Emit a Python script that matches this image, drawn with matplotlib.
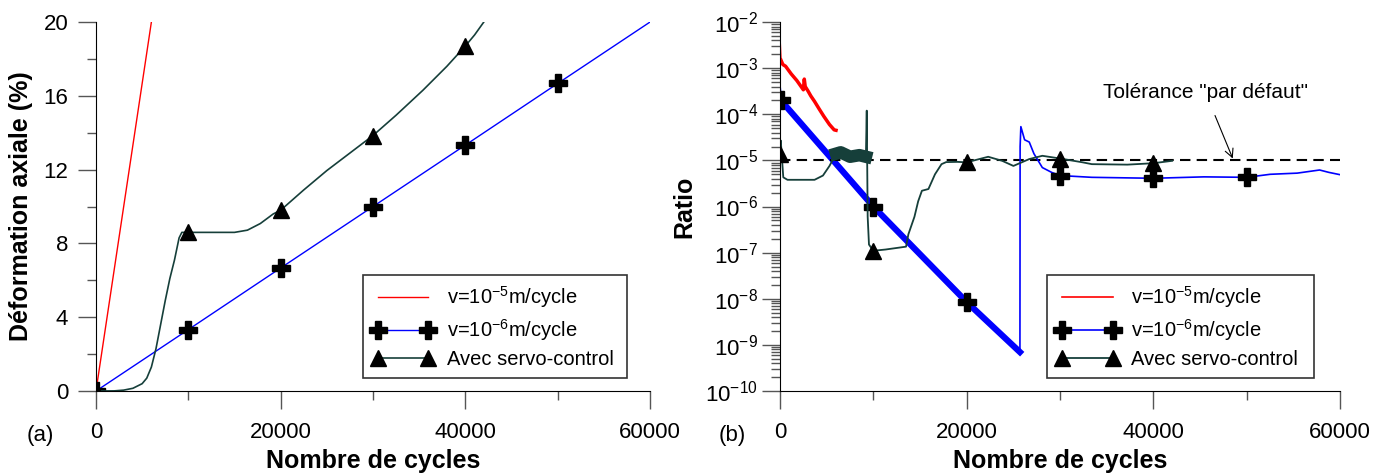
import numpy as np
import matplotlib.pyplot as plt
from matplotlib.ticker import LogLocator, NullFormatter

plt.rcParams['font.family'] = ['Liberation Sans', 'DejaVu Sans']
plt.rcParams['mathtext.default'] = 'regular'

# ---- (a) axial strain vs cycles ----
red_n = [0, 6000]
red_e = [0, 20]

blue_n = [0, 10000, 20000, 30000, 40000, 50000, 60000]
blue_e = [0, 3.33, 6.67, 10.0, 13.33, 16.67, 20.0]
blue_mk = [0, 10000, 20000, 30000, 40000, 50000]

servo_n = [0, 2000, 3000, 4000, 5000, 5500, 6000, 6500, 7000, 7500, 8000, 8500,
           9000, 9300, 10000, 12000, 15000, 16400, 17800, 19200, 20000, 22500,
           25000, 27500, 30000, 32500, 35400, 38000, 40000, 41000, 42000]
servo_e = [0, 0.01, 0.05, 0.15, 0.4, 0.7, 1.3, 2.3, 3.6, 4.9, 6.1, 7.1,
           8.3, 8.6, 8.6, 8.6, 8.6, 8.72, 9.08, 9.6, 9.8, 10.9,
           11.95, 12.9, 13.85, 14.95, 16.3, 17.6, 18.7, 19.3, 20.0]
servo_mk = [0, 10000, 20000, 30000, 40000]

# ---- (b) ratio vs cycles ----
red_rn = [0, 100, 300, 600, 1200, 1800, 2500, 2600, 2700, 3000, 3300, 3700,
          4200, 4700, 5300, 5800, 6000]
red_r = [4.2e-3, 1.5e-3, 1.2e-3, 1.1e-3, 7.5e-4, 5.4e-4, 3.4e-4, 5.8e-4, 4.0e-4,
         3.2e-4, 2.5e-4, 1.9e-4, 1.3e-4, 9.0e-5, 6.0e-5, 4.6e-5, 4.5e-5]

blue_rn = [0, 150, 400, 10000, 20000, 25700, 25720, 25800, 26200, 26700, 27200,
           28100, 29100, 30000, 33400, 40000, 45400, 50000, 52500, 55400, 57800,
           58800, 60000]
blue_r = [4.2e-4, 2.0e-4, 1.7e-4, 1.0e-6, 8.5e-9, 7.0e-10, 2.0e-5, 5.4e-5, 2.8e-5,
          2.5e-5, 1.4e-5, 7.0e-6, 5.5e-6, 4.7e-6, 4.3e-6, 4.1e-6, 4.4e-6, 4.3e-6,
          5.0e-6, 5.3e-6, 6.2e-6, 5.5e-6, 4.9e-6]
blue_rmk = [150, 10000, 20000, 30000, 40000, 50000]

servo_rn = [0, 80, 350, 800, 3700, 4600, 5300, 6000, 6500, 7500, 8500, 9200,
            9290, 9390, 9530, 9900, 10000, 11300, 13500, 13750, 14400, 14800,
            15200, 15900, 16600, 17300, 17800, 19000, 20000, 22300, 23800, 25000,
            26700, 28100, 30000, 32400, 33400, 37200, 40000, 42000]
servo_r = [1.4e-5, 2.7e-5, 4.3e-6, 3.8e-6, 3.8e-6, 4.7e-6, 7.6e-6, 1.4e-5, 1.5e-5,
           1.2e-5, 1.3e-5, 1.2e-5, 1.2e-4, 6.0e-7, 1.5e-7, 1.17e-7, 1.1e-7, 1.17e-7,
           1.35e-7, 2.5e-7, 6.0e-7, 1.3e-6, 2.2e-6, 2.4e-6, 5.0e-6, 8.3e-6, 9.2e-6,
           9.3e-6, 9.1e-6, 1.2e-5, 9.8e-6, 7.6e-6, 1.07e-5, 1.26e-5, 1.1e-5, 9.1e-6,
           8.3e-6, 8.1e-6, 8.7e-6, 9.8e-6]
servo_rmk = [0, 10000, 20000, 30000, 40000]

tolerance = 1e-5

green = '#163f3a'
lab1 = 'v=10$^{-5}$m/cycle'
lab2 = 'v=10$^{-6}$m/cycle'
lab3 = 'Avec servo-control'


def marks(n, mk):
    return [i for i, v in enumerate(n) if v in mk]


def style(ax):
    for s in ['top', 'right']:
        ax.spines[s].set_visible(False)
    ax.tick_params(which='major', direction='out', length=13, width=1,
                   labelsize=16, color='#555555')
    ax.tick_params(which='minor', direction='out', length=6.5, width=1,
                   color='#555555')
    ax.tick_params(axis='x', which='major', pad=9)
    ax.tick_params(axis='y', which='major', pad=7)
    ax.set_xlim(0, 60000)
    ax.set_xticks([0, 20000, 40000, 60000])
    ax.set_xticks([10000, 30000, 50000], minor=True)
    ax.set_xlabel('Nombre de cycles', fontsize=18, fontweight='bold', va='top')
    ax.xaxis.set_label_coords(0.5, -0.157)


def legend(ax, x0):
    leg = ax.legend(loc='lower left', bbox_to_anchor=(x0, 0.035, 0.476, 0.28),
                    mode='expand', numpoints=2,
                    handlelength=3.1, handletextpad=0.6, fontsize=14.5,
                    fancybox=False, framealpha=1, edgecolor='#333333',
                    borderpad=0.45, labelspacing=0.35, borderaxespad=0)
    leg.get_frame().set_linewidth(1.2)


fig = plt.figure(figsize=(13.83, 4.74), dpi=100)
ax1 = fig.add_axes([0.0694, 0.175, 0.4006, 0.7785])
ax2 = fig.add_axes([0.564, 0.175, 0.405, 0.7785])

# (a)
ax1.plot(red_n, red_e, color='red', lw=1, label=lab1)
ax1.plot(blue_n, blue_e, color='blue', lw=1, marker='P', ms=13, mfc='black',
         mec='black', markevery=marks(blue_n, blue_mk), label=lab2)
ax1.plot(servo_n, servo_e, color=green, lw=1.2, marker='^', ms=12, mfc='black',
         mec='black', markevery=marks(servo_n, servo_mk), label=lab3)
ax1.set_ylim(0, 20)
ax1.set_yticks([0, 4, 8, 12, 16, 20])
ax1.set_yticks([2, 6, 10, 14, 18], minor=True)
style(ax1)
ax1.set_ylabel('Déformation axiale (%)', fontsize=18, fontweight='bold')
ax1.yaxis.set_label_coords(-0.114, 0.5)
legend(ax1, 0.482)
ax1.text(-0.1, -0.12, '(a)', transform=ax1.transAxes, fontsize=16,
         ha='center', va='center')

# (b)
ax2.axhline(tolerance, color='black', ls=(0, (5, 3)), lw=1.5)
ax2.plot(red_rn, red_r, color='red', lw=1.2, label=lab1)
ax2.plot(red_rn[1:], red_r[1:], color='red', lw=2.5)
ax2.plot(blue_rn, blue_r, color='blue', lw=1.2, marker='P', ms=13, mfc='black',
         mec='black', markevery=marks(blue_rn, blue_rmk), label=lab2)
ax2.plot(blue_rn[1:6], blue_r[1:6], color='blue', lw=4.5, zorder=1.9)
ax2.plot(servo_rn, servo_r, color=green, lw=1.3, marker='^', ms=12,
         mfc='black', mec='black', markevery=marks(servo_rn, servo_rmk),
         label=lab3)
ax2.plot(servo_rn[7:12], servo_r[7:12], color=green, lw=9)
ax2.set_yscale('log')
ax2.set_ylim(1e-10, 1e-2)
ax2.set_yticks([10.0 ** k for k in range(-10, -1)])
ax2.yaxis.set_minor_locator(LogLocator(base=10, subs=np.arange(2, 10), numticks=100))
ax2.yaxis.set_minor_formatter(NullFormatter())
style(ax2)
ax2.tick_params(axis='y', which='major', pad=3)
ax2.set_ylabel('Ratio', fontsize=18, fontweight='bold')
ax2.yaxis.set_label_coords(-0.15, 0.5)
legend(ax2, 0.477)
ax2.annotate('Tolérance "par défaut"', xy=(48500, 1.1e-5), xytext=(45600, 2.9e-4),
             fontsize=15, ha='center', va='center',
             arrowprops=dict(arrowstyle='->', color='black', lw=0.8,
                             shrinkA=8, shrinkB=0))
ax2.text(-0.085, -0.12, '(b)', transform=ax2.transAxes, fontsize=16,
         ha='center', va='center')

fig.savefig('out.png', dpi=100)
